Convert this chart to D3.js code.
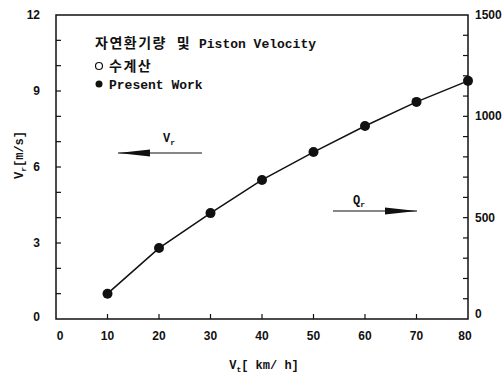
<!DOCTYPE html>
<meta charset="utf-8">
<style>
    body { margin: 0; background: #fff; }
    text { font-family: "Liberation Sans", Arial, sans-serif; font-weight: bold; fill: #111; }
    .mono { font-family: "Liberation Mono", "DejaVu Sans Mono", "Noto Sans CJK KR", monospace; }
    .line { fill: none; stroke: #111; stroke-width: 1.5px; }
</style>
<body>
<script src="https://d3js.org/d3.v7.min.js"></script>
<script>
    // data
    var speeds = [10, 20, 30, 40, 50, 60, 70, 80];          // Vt [km/h]
    var velocity = [1.0, 2.8, 4.18, 5.49, 6.59, 7.62, 8.57, 9.4]; // Vr [m/s]
    var xTicks = [0, 10, 20, 30, 40, 50, 60, 70, 80];
    var yLabelTicks = [0, 3, 6, 9, 12];
    var qLabelTicks = [0, 500, 1000, 1500];

    var margin = { top: 15, right: 35, bottom: 57, left: 56 },
        width = 503 - margin.left - margin.right,
        height = 376 - margin.top - margin.bottom;

    var x = d3.scaleLinear().domain([0, 80]).range([0, width]);
    var y = d3.scaleLinear().domain([0, 12]).range([height, 0]);
    var q = d3.scaleLinear().domain([0, 1500]).range([height, 0]);

    var svg = d3.select("body").append("svg")
        .attr("width", 503)
        .attr("height", 376)
        .append("g")
        .attr("transform", "translate(" + margin.left + "," + margin.top + ")");

    // frame
    svg.append("rect")
        .attr("width", width).attr("height", height)
        .attr("fill", "none").attr("stroke", "#111").attr("stroke-width", 1.5);

    // ticks (inward)
    function tickLine(x1, y1, x2, y2) {
        svg.append("line").attr("x1", x1).attr("y1", y1).attr("x2", x2).attr("y2", y2)
            .attr("stroke", "#111").attr("stroke-width", 1.2);
    }
    d3.range(1, 12).forEach(function (v) { tickLine(0, y(v), 5, y(v)); });
    d3.range(100, 1500, 100).forEach(function (v) { tickLine(width - 5, q(v), width, q(v)); });
    xTicks.slice(1, -1).forEach(function (v) { tickLine(x(v), height, x(v), height - 5); });

    // tick labels
    svg.selectAll(".xl").data(xTicks).enter().append("text")
        .attr("x", function (d) { return x(d) + (d === 0 ? 4 : d === 80 ? -3 : 0); })
        .attr("y", height + 21)
        .attr("text-anchor", "middle").style("font-size", "12px")
        .text(function (d) { return d; });
    svg.selectAll(".yl").data(yLabelTicks).enter().append("text")
        .attr("x", -16).attr("y", function (d) { return y(d) + 4 - (d === 0 ? 2 : 0); })
        .attr("text-anchor", "end").style("font-size", "12px")
        .text(function (d) { return d; });
    svg.selectAll(".ql").data(qLabelTicks).enter().append("text")
        .attr("x", width + 7).attr("y", function (d) { return q(d) + 4 - (d === 0 ? 5 : 0); })
        .attr("text-anchor", "start").style("font-size", "12px")
        .text(function (d) { return d; });

    // data line and markers
    var pts = speeds.map(function (s, i) { return [s, velocity[i]]; });
    svg.append("path")
        .data([pts])
        .attr("class", "line")
        .attr("d", d3.line().x(function (d) { return x(d[0]); }).y(function (d) { return y(d[1]); }));
    svg.selectAll(".pt").data(pts).enter().append("circle")
        .attr("cx", function (d) { return x(d[0]); })
        .attr("cy", function (d) { return y(d[1]); })
        .attr("r", 5).attr("fill", "#111");

    // legend
    var lt = svg.append("text").attr("class", "mono").attr("x", 39).attr("y", 33)
        .style("font-size", "13px");
    lt.append("tspan").style("font-size", "14px").style("letter-spacing", "1.5px").text("자연환기량 및");
    lt.append("tspan").text(" Piston Velocity");
    svg.append("circle").attr("cx", 43).attr("cy", 51).attr("r", 3.5)
        .attr("fill", "#fff").attr("stroke", "#111").attr("stroke-width", 1.2);
    svg.append("text").attr("class", "mono").attr("x", 53).attr("y", 56)
        .style("font-size", "14px").style("letter-spacing", "1.5px").text("수계산");
    svg.append("circle").attr("cx", 43).attr("cy", 69).attr("r", 3.5).attr("fill", "#111");
    svg.append("text").attr("class", "mono").attr("x", 53).attr("y", 74)
        .style("font-size", "13px").text("Present Work");

    // arrows
    function arrow(x1, x2, yy, dir) {
        svg.append("line").attr("x1", x1).attr("y1", yy).attr("x2", x2).attr("y2", yy)
            .attr("stroke", "#111").attr("stroke-width", 1.2);
        var tip = dir < 0 ? Math.min(x1, x2) : Math.max(x1, x2);
        svg.append("path")
            .attr("d", "M" + tip + "," + yy + "L" + (tip - dir * 32) + "," + (yy - 3.5) +
                "L" + (tip - dir * 32) + "," + (yy + 3.5) + "Z")
            .attr("fill", "#111");
    }
    arrow(62, 146, 138, -1);
    arrow(277, 361, 196, 1);
    var vr = svg.append("text").attr("class", "mono").attr("x", 107).attr("y", 127).style("font-size", "12px");
    vr.append("tspan").text("V");
    vr.append("tspan").attr("dy", 3).style("font-size", "8px").text("r");
    var qr = svg.append("text").attr("class", "mono").attr("x", 297).attr("y", 189).style("font-size", "12px");
    qr.append("tspan").text("Q");
    qr.append("tspan").attr("dy", 3).style("font-size", "8px").text("r");

    // axis titles
    var yt = svg.append("text").attr("class", "mono")
        .attr("transform", "translate(" + (-33) + "," + (height / 2 - 12) + ") rotate(-90)")
        .attr("text-anchor", "middle").style("font-size", "12px");
    yt.append("tspan").text("V");
    yt.append("tspan").attr("dy", 3).style("font-size", "8px").text("r");
    yt.append("tspan").attr("dy", -3).text("[m/s]");
    var xt = svg.append("text").attr("class", "mono")
        .attr("x", width / 2 + 2).attr("y", height + 50)
        .attr("text-anchor", "middle").style("font-size", "12px");
    xt.append("tspan").text("V");
    xt.append("tspan").attr("dy", 3).style("font-size", "8px").text("t");
    xt.append("tspan").attr("dy", -3).text("[ km/ h]");
</script>
</body>
